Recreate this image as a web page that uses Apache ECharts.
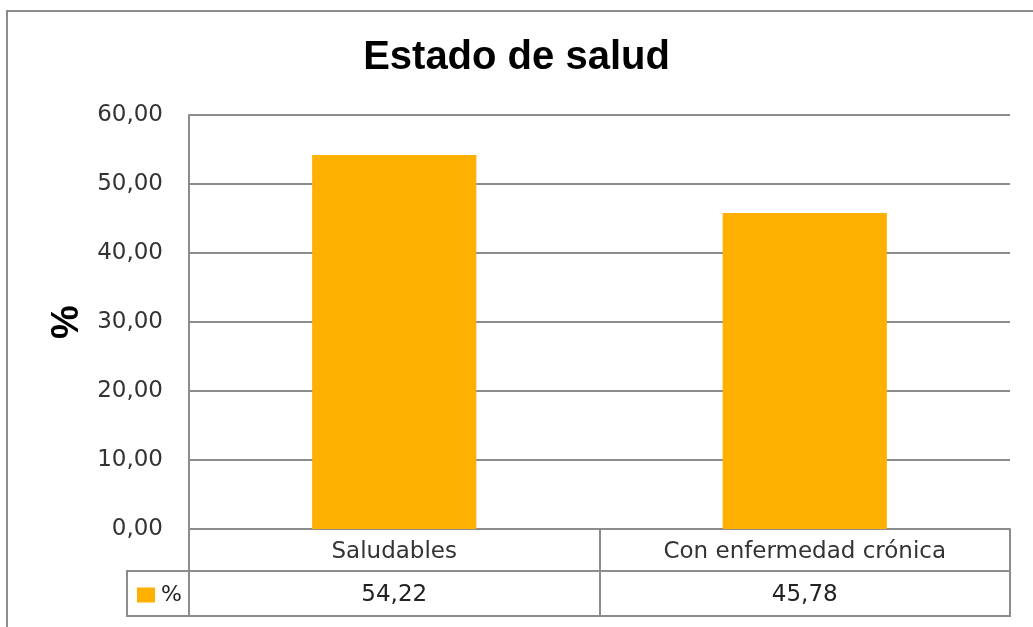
<!DOCTYPE html>
<html>
<head>
<meta charset="utf-8">
<script src="https://cdn.jsdelivr.net/npm/echarts@6/dist/echarts.min.js"></script>
<style>
  html, body { margin: 0; padding: 0; background: #ffffff; }
  #chart { width: 1033px; height: 627px; }
</style>
</head>
<body>
<div id="chart"></div>
<script>
const titleText = 'Estado de salud';
const categories = ['Saludables', 'Con enfermedad crónica'];
const seriesName = '%';
const values = [54.22, 45.78];
const yTicks = { min: 0, max: 60, interval: 10 };

function fmt(v) { return v.toFixed(2).replace('.', ','); }

const chart = echarts.init(document.getElementById('chart'), null, { renderer: 'canvas' });
const gridLeft = 189, gridTop = 115, gridRight = 23, gridBottom = 98;
const W = 1033, H = 627;
const lineColor = '#8c8c8c';
const textFont = '"DejaVu Sans", Verdana, sans-serif';

chart.setOption({
  animation: false,
  backgroundColor: '#ffffff',
  title: {
    text: titleText,
    left: 'center',
    top: 33,
    textStyle: { fontFamily: '"Liberation Sans", Arial, sans-serif', fontWeight: 'bold', fontSize: 40, color: '#000' }
  },
  legend: {
    data: [seriesName],
    left: 137,
    top: 584,
    padding: 0,
    icon: 'rect',
    itemWidth: 18,
    itemHeight: 15,
    itemGap: 5,
    textStyle: { fontFamily: textFont, fontSize: 22, color: '#222', padding: [0, 0, 0, 1] }
  },
  grid: { left: gridLeft, top: gridTop, right: gridRight, bottom: gridBottom },
  xAxis: [
    {
      type: 'category',
      data: categories,
      position: 'bottom',
      axisLine: { show: true, lineStyle: { color: lineColor, width: 2 } },
      axisTick: { show: true, length: 87, lineStyle: { color: lineColor, width: 2 } },
      axisLabel: { margin: 12, fontFamily: textFont, fontSize: 23, color: '#333' },
      splitLine: { show: false }
    },
    {
      type: 'category',
      data: values.map(fmt),
      position: 'bottom',
      offset: 42,
      axisLine: { show: false },
      axisTick: { show: false },
      axisLabel: { margin: 13, fontFamily: textFont, fontSize: 23, color: '#222' }
    }
  ],
  yAxis: {
    type: 'value',
    min: yTicks.min,
    max: yTicks.max,
    interval: yTicks.interval,
    name: seriesName,
    nameLocation: 'middle',
    nameRotate: 90,
    nameGap: 102,
    nameTextStyle: { fontFamily: '"Liberation Sans", Arial, sans-serif', fontWeight: 'bold', fontSize: 38, color: '#000' },
    axisLine: { show: true, lineStyle: { color: lineColor, width: 2 } },
    axisTick: { show: false },
    axisLabel: { margin: 26, formatter: fmt, fontFamily: textFont, fontSize: 23, color: '#333' },
    splitLine: { show: true, lineStyle: { color: lineColor, width: 2 } }
  },
  series: [{
    name: seriesName,
    type: 'bar',
    data: values,
    barWidth: '40%',
    itemStyle: { color: '#FFB000' }
  }],
  graphic: [
    {
      type: 'rect',
      shape: { x: 7, y: 11, width: W, height: H },
      style: { fill: 'none', stroke: lineColor, lineWidth: 2 },
      silent: true
    },
    {
      type: 'rect',
      shape: { x: 127, y: 571, width: W - gridRight - 127, height: 45 },
      style: { fill: 'none', stroke: lineColor, lineWidth: 2 },
      silent: true
    }
  ]
});
</script>
</body>
</html>
